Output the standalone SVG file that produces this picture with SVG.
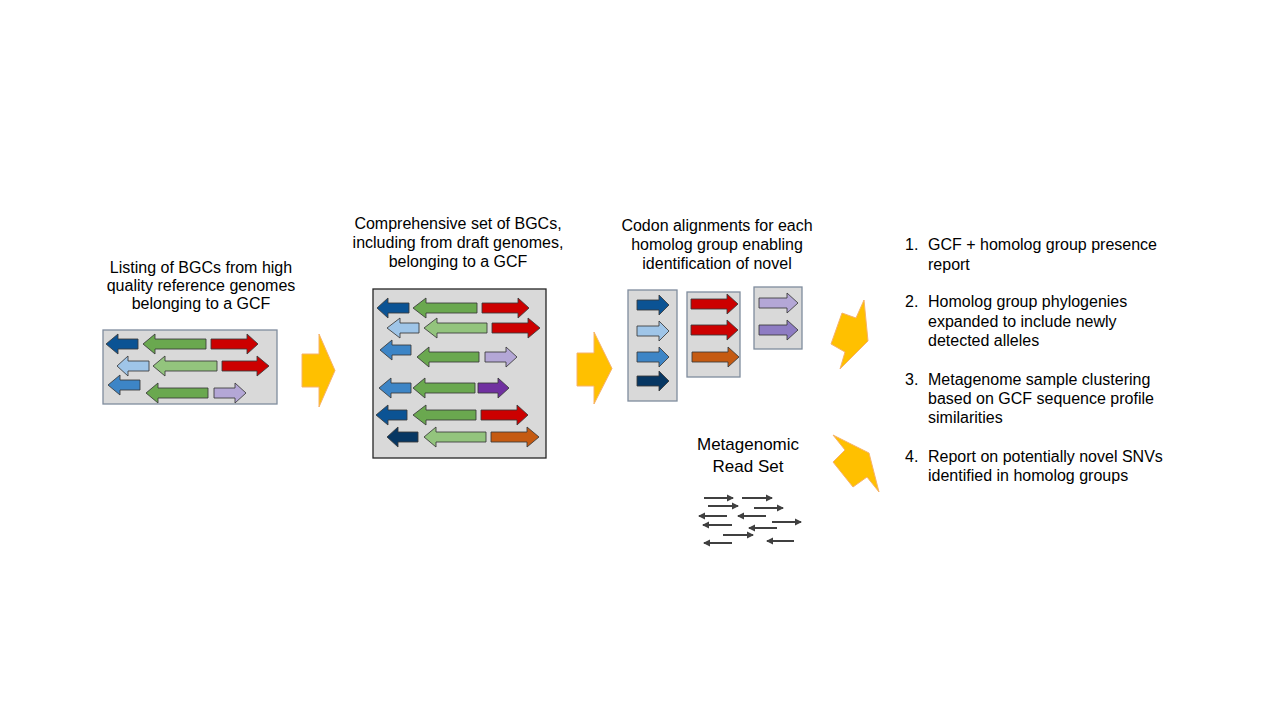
<svg xmlns="http://www.w3.org/2000/svg" width="1281" height="721" viewBox="0 0 1281 721">
<defs>
<style>
text{font-family:"Liberation Sans",Arial,sans-serif;font-size:16px;fill:#000}
.c{text-anchor:middle}
.box{fill:#d9d9d9;stroke:#7f8c9d;stroke-width:1.3}
.box2{fill:#d9d9d9;stroke:#262626;stroke-width:1.3}
.g{stroke:#3a3a3a;stroke-width:1;stroke-opacity:.85;stroke-linejoin:miter}
.db{fill:#0b5394}.lb{fill:#9fc5e8}.mb{fill:#3d85c6}.nv{fill:#073763}
.gr{fill:#6aa84f}.lg{fill:#93c47d}.rd{fill:#cc0000}.lv{fill:#b4a7d6}
.pu{fill:#7030a0}.pu2{fill:#8e7cc3}.or{fill:#c55a11}
.ya{fill:#ffc000;stroke:#f6b26b;stroke-width:1}
.rd2{stroke:#404040;stroke-width:2;fill:none}
.meta{font-size:17px}
</style>
<marker id="ah" markerWidth="8" markerHeight="8" refX="6" refY="4" orient="auto-start-reverse" markerUnits="userSpaceOnUse">
<path d="M0,0.5 L7,4 L0,7.5 Z" fill="#404040"/>
</marker>
</defs>
<rect width="1281" height="721" fill="#ffffff"/>

<g id="node-reference-bgcs">
<text class="c" x="201" y="273">Listing of BGCs from high</text>
<text class="c" x="201" y="291">quality reference genomes</text>
<text class="c" x="201" y="309">belonging to a GCF</text>
<rect class="box" x="103" y="330" width="174" height="74"/>
<path class="g db" d="M106,344 L118,334 L118,339 L138,339 L138,349 L118,349 L118,354 Z"/>
<path class="g gr" d="M143,344 L155,334 L155,339 L206,339 L206,349 L155,349 L155,354 Z"/>
<path class="g rd" d="M211,339 L247,339 L247,334 L258,344 L247,354 L247,349 L211,349 Z"/>
<path class="g lb" d="M117,366 L128,356 L128,361 L149,361 L149,371 L128,371 L128,376 Z"/>
<path class="g lg" d="M153,366 L165,356 L165,361 L217,361 L217,371 L165,371 L165,376 Z"/>
<path class="g rd" d="M222,361 L257,361 L257,356 L269,366 L257,376 L257,371 L222,371 Z"/>
<path class="g mb" d="M108,385 L120,375 L120,380 L140,380 L140,390 L120,390 L120,395 Z"/>
<path class="g gr" d="M146,393 L158,383 L158,388 L208,388 L208,398 L158,398 L158,403 Z"/>
<path class="g lv" d="M214,388 L235,388 L235,383 L246,393 L235,403 L235,398 L214,398 Z"/>
</g>

<g id="node-comprehensive-bgcs">
<text class="c" x="458" y="229">Comprehensive set of BGCs,</text>
<text class="c" x="458" y="248">including from draft genomes,</text>
<text class="c" x="458" y="267">belonging to a GCF</text>
<rect class="box2" x="373" y="289" width="173" height="169"/>
<path class="g db" d="M377,308 L388,298 L388,303 L409,303 L409,313 L388,313 L388,318 Z"/>
<path class="g gr" d="M413,308 L426,298 L426,303 L477,303 L477,313 L426,313 L426,318 Z"/>
<path class="g rd" d="M482,303 L518,303 L518,298 L529,308 L518,318 L518,313 L482,313 Z"/>
<path class="g lb" d="M387,328 L400,318 L400,323 L419,323 L419,333 L400,333 L400,338 Z"/>
<path class="g lg" d="M424,328 L437,318 L437,323 L487,323 L487,333 L437,333 L437,338 Z"/>
<path class="g rd" d="M492,323 L528,323 L528,318 L540,328 L528,338 L528,333 L492,333 Z"/>
<path class="g mb" d="M380,350 L392,340 L392,345 L411,345 L411,355 L392,355 L392,360 Z"/>
<path class="g gr" d="M417,357 L429,347 L429,352 L479,352 L479,362 L429,362 L429,367 Z"/>
<path class="g lv" d="M485,352 L506,352 L506,347 L517,357 L506,367 L506,362 L485,362 Z"/>
<path class="g mb" d="M379,388 L391,378 L391,383 L411,383 L411,393 L391,393 L391,398 Z"/>
<path class="g gr" d="M413,388 L425,378 L425,383 L475,383 L475,393 L425,393 L425,398 Z"/>
<path class="g pu" d="M478,383 L498,383 L498,378 L509,388 L498,398 L498,393 L478,393 Z"/>
<path class="g db" d="M376,415 L388,405 L388,410 L407,410 L407,420 L388,420 L388,425 Z"/>
<path class="g gr" d="M413,415 L426,405 L426,410 L476,410 L476,420 L426,420 L426,425 Z"/>
<path class="g rd" d="M481,410 L517,410 L517,405 L528,415 L517,425 L517,420 L481,420 Z"/>
<path class="g nv" d="M387,437 L398,427 L398,432 L418,432 L418,442 L398,442 L398,447 Z"/>
<path class="g lg" d="M424,437 L436,427 L436,432 L486,432 L486,442 L436,442 L436,447 Z"/>
<path class="g or" d="M491,432 L527,432 L527,427 L539,437 L527,447 L527,442 L491,442 Z"/>
</g>

<g id="node-codon-alignments">
<text class="c" x="717" y="231">Codon alignments for each</text>
<text class="c" x="717" y="250">homolog group enabling</text>
<text class="c" x="717" y="269">identification of novel</text>
<rect class="box" x="628" y="290" width="49" height="111"/>
<path class="g db" d="M637,300 L659,300 L659,295 L669,305 L659,315 L659,310 L637,310 Z"/>
<path class="g lb" d="M637,326 L659,326 L659,321 L669,331 L659,341 L659,336 L637,336 Z"/>
<path class="g mb" d="M637,352 L659,352 L659,347 L669,357 L659,367 L659,362 L637,362 Z"/>
<path class="g nv" d="M637,376 L659,376 L659,371 L669,381 L659,391 L659,386 L637,386 Z"/>
<rect class="box" x="687" y="292" width="53" height="85"/>
<path class="g rd" d="M691,299 L727,299 L727,294 L738,304 L727,314 L727,309 L691,309 Z"/>
<path class="g rd" d="M691,325 L727,325 L727,320 L738,330 L727,340 L727,335 L691,335 Z"/>
<path class="g or" d="M692,352 L728,352 L728,347 L739,357 L728,367 L728,362 L692,362 Z"/>
<rect class="box" x="754" y="287" width="48" height="62"/>
<path class="g lv" d="M759,298 L787,298 L787,293 L798,303 L787,313 L787,308 L759,308 Z"/>
<path class="g pu2" d="M759,325 L787,325 L787,320 L798,330 L787,340 L787,335 L759,335 Z"/>
</g>

<g id="node-metagenomic-reads">
<text class="c meta" x="748" y="450">Metagenomic</text>
<text class="c meta" x="748" y="472">Read Set</text>
<g marker-end="url(#ah)">
<line class="rd2" x1="704" y1="498" x2="733" y2="498"/>
<line class="rd2" x1="742" y1="498" x2="772" y2="498"/>
<line class="rd2" x1="708" y1="506" x2="738" y2="506"/>
<line class="rd2" x1="754" y1="508" x2="783" y2="508"/>
<line class="rd2" x1="727" y1="516" x2="699" y2="516"/>
<line class="rd2" x1="766" y1="516" x2="738" y2="516"/>
<line class="rd2" x1="772" y1="522" x2="801" y2="522"/>
<line class="rd2" x1="732" y1="525" x2="703" y2="525"/>
<line class="rd2" x1="777" y1="528" x2="749" y2="528"/>
<line class="rd2" x1="723" y1="535" x2="753" y2="535"/>
<line class="rd2" x1="732" y1="543" x2="704" y2="543"/>
<line class="rd2" x1="794" y1="541" x2="767" y2="541"/>
</g>
</g>

<g id="node-outputs">
<text x="905" y="250">1.</text><text x="928" y="250">GCF + homolog group presence</text>
<text x="928" y="270">report</text>
<text x="905" y="307">2.</text><text x="928" y="307">Homolog group phylogenies</text>
<text x="928" y="327">expanded to include newly</text>
<text x="928" y="346">detected alleles</text>
<text x="905" y="385">3.</text><text x="928" y="385">Metagenome sample clustering</text>
<text x="928" y="404">based on GCF sequence profile</text>
<text x="928" y="423">similarities</text>
<text x="905" y="462">4.</text><text x="928" y="462">Report on potentially novel SNVs</text>
<text x="928" y="481">identified in homolog groups</text>
</g>

<g id="connectors">
<polygon class="ya" points="302,354 319,354 319,334 335,370.5 319,407 319,387 302,387"/>
<polygon class="ya" points="577,353 594,353 594,332 612,368.5 594,404 594,386 577,386"/>
<polygon class="ya" points="864,300 868,341 840,369 845,352 831,344 842,313 856,318"/>
<polygon class="ya" points="833,435 869,453 879,492 867,477 853,487 833,462 845,450"/>
</g>
</svg>
